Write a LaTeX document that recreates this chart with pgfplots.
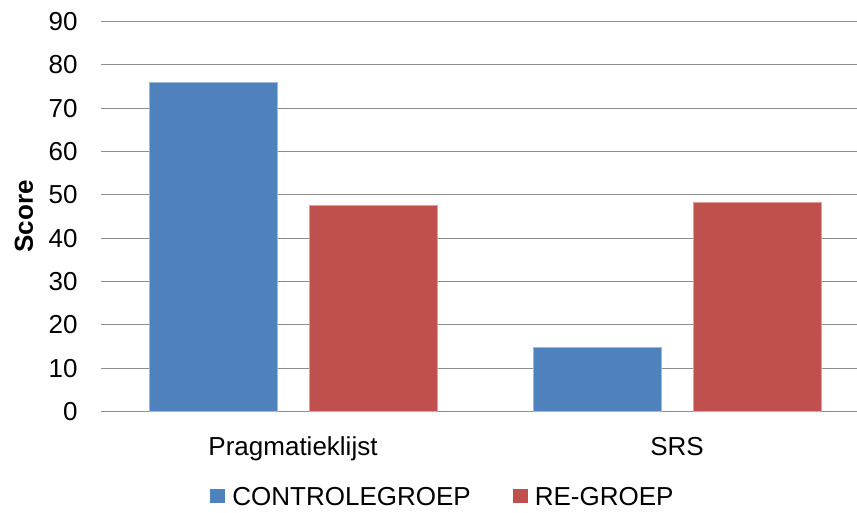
\documentclass[border=0pt]{standalone}
\usepackage{pgfplots}
\pgfplotsset{compat=1.18}
\usepackage{fontspec}
\setmainfont{Liberation Sans}
\definecolor{ctrlblue}{HTML}{4F81BD}
\definecolor{regred}{HTML}{C0504D}
\definecolor{gridgray}{HTML}{8C8C8C}

\begin{document}
\fontsize{13}{15.6}\selectfont
\begin{tikzpicture}
\useasboundingbox (0,0) rectangle (428.5pt,256.5pt);
\begin{axis}[
  at={(50.5pt,50.75pt)}, anchor=south west,
  scale only axis, width=378pt, height=195pt,
  ymin=0, ymax=90, ytick={0,10,...,90},
  xmin=-0.5, xmax=1.46875,
  xtick={0,1}, xticklabels={Pragmatieklijst,SRS},
  /pgf/number format/assume math mode=true,
  axis x line*=bottom, axis y line*=left,
  x axis line style={-, draw=gridgray, line width=0.7pt},
  y axis line style={draw=none},
  major tick length=0pt,
  tick style={draw=none},
  ymajorgrids, grid style={gridgray, line width=0.65pt},
  yticklabel style={inner sep=0pt, anchor=east, xshift=-11.5pt},
  xticklabel style={inner sep=0pt, anchor=north, text height=0.73em, text depth=0.2em, yshift=-12.26pt},
  ylabel={\bfseries Score},
  every axis y label/.style={at={(axis description cs:-0.10185,0.5)}, rotate=90, anchor=center},
  legend columns=2,
  legend style={at={(axis description cs:0.1442,-0.2218)}, anchor=west, draw=none, fill=none,
    inner sep=0pt, nodes={inner sep=0pt},
    /tikz/every odd column/.append style={column sep=3.5pt},
    /tikz/every even column/.append style={column sep=21pt}},
  legend image code/.code={\fill[#1, draw=none] (0pt,-2.6pt) rectangle (7.5pt,4.6pt);},
]
\addplot[ybar, bar width=64pt, bar shift=-40pt, fill=ctrlblue, draw=ctrlblue!55!white, line width=0.5pt]
  coordinates {(0,76.0) (1,14.8)};
\addlegendentry{CONTROLEGROEP}
\addplot[ybar, bar width=64pt, bar shift=40pt, fill=regred, draw=regred!55!white, line width=0.5pt]
  coordinates {(0,47.5) (1,48.3)};
\addlegendentry{RE-GROEP}
\end{axis}
\end{tikzpicture}
\end{document}
